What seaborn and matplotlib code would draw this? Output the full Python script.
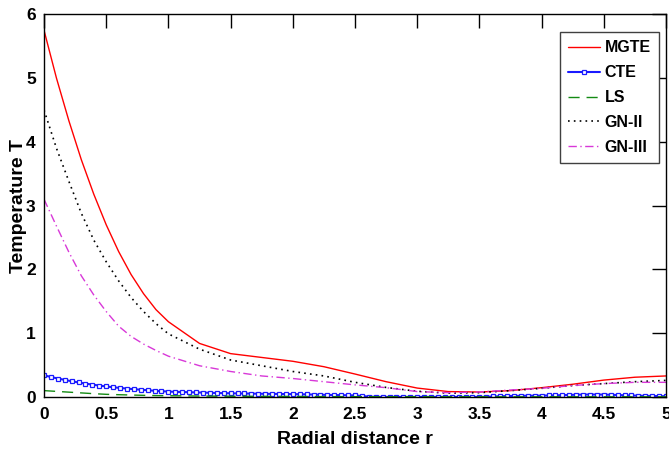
import matplotlib
matplotlib.use("Agg")
import matplotlib.pyplot as plt
import seaborn as sns
import numpy as np
import pandas as pd

# ---------------- data ----------------
r = [0.0, 0.1, 0.2, 0.3, 0.4, 0.5, 0.6, 0.7, 0.8, 0.9, 1.0,
     1.25, 1.5, 1.75, 2.0, 2.25, 2.5, 2.75, 3.0, 3.25, 3.5, 3.75,
     4.0, 4.25, 4.5, 4.75, 5.0]

mgte = [5.75, 5.0, 4.33, 3.72, 3.18, 2.70, 2.28, 1.92, 1.62, 1.37, 1.18,
        0.84, 0.68, 0.62, 0.56, 0.475, 0.36, 0.24, 0.14, 0.085, 0.078, 0.10,
        0.146, 0.20, 0.265, 0.31, 0.33]

gn2 = [4.5, 3.9, 3.38, 2.88, 2.46, 2.12, 1.82, 1.56, 1.34, 1.15, 0.99,
       0.75, 0.58, 0.49, 0.40, 0.33, 0.23, 0.15, 0.09, 0.06, 0.068, 0.10,
       0.136, 0.18, 0.21, 0.24, 0.26]

gn3 = [3.1, 2.68, 2.27, 1.9, 1.6, 1.34, 1.11, 0.95, 0.83, 0.73, 0.64,
       0.49, 0.40, 0.33, 0.29, 0.24, 0.19, 0.146, 0.085, 0.068, 0.078, 0.11,
       0.136, 0.18, 0.21, 0.23, 0.23]

ls = [0.10, 0.088, 0.076, 0.064, 0.052, 0.042, 0.036, 0.031, 0.026, 0.022, 0.020,
      0.015, 0.012, 0.010, 0.008, 0.006, 0.005, 0.004, 0.004, 0.003, 0.003, 0.003,
      0.003, 0.003, 0.003, 0.003, 0.003]

# CTE is sampled more densely (markers every 5/90)
r_cte = [round(5 * k / 90, 4) for k in range(91)]
cte = [0.340, 0.314, 0.290, 0.268, 0.247, 0.228, 0.210, 0.194, 0.179, 0.165,
       0.153, 0.142, 0.132, 0.123, 0.114, 0.106, 0.098, 0.091, 0.085,
       0.081, 0.078, 0.075, 0.072, 0.069, 0.066, 0.063, 0.060, 0.058,
       0.056, 0.055, 0.053, 0.052, 0.050, 0.049, 0.048, 0.046, 0.045,
       0.043, 0.041, 0.038, 0.036, 0.033, 0.031, 0.029, 0.027, 0.025,
       0.015, 0.006, 0.002,
       0.001, 0.001, 0.001, 0.001, 0.001, 0.001, 0.001, 0.001, 0.001, 0.001,
       0.001, 0.001, 0.001, 0.001, 0.001,
       0.002, 0.008, 0.012, 0.015, 0.017, 0.019, 0.020, 0.021, 0.022, 0.024,
       0.026, 0.029, 0.033, 0.036, 0.038, 0.039, 0.039, 0.038, 0.035, 0.031,
       0.027, 0.024, 0.021, 0.018, 0.016, 0.014, 0.012]

x_ticks = [0, 0.5, 1, 1.5, 2, 2.5, 3, 3.5, 4, 4.5, 5]
x_tick_labels = ["0", "0.5", "1", "1.5", "2", "2.5", "3", "3.5", "4", "4.5", "5"]
y_ticks = [0, 1, 2, 3, 4, 5, 6]
y_tick_labels = ["0", "1", "2", "3", "4", "5", "6"]

# ---------------- styling ----------------
sns.set_style("white")
plt.rcParams["font.family"] = ["Liberation Sans", "DejaVu Sans"]
plt.rcParams["font.weight"] = "bold"
for key in ["text.color", "axes.labelcolor", "xtick.color", "ytick.color"]:
    plt.rcParams[key] = "black"

fig = plt.figure(figsize=(6.69, 4.62), dpi=100)
ax = fig.add_axes([0.0658, 0.1407, 0.9297, 0.8283])

df_main = pd.DataFrame({"r": r, "MGTE": mgte, "LS": ls, "GN-II": gn2, "GN-III": gn3})
df_cte = pd.DataFrame({"r": r_cte, "CTE": cte})

sns.lineplot(data=df_main, x="r", y="MGTE", ax=ax, color="#ff0000", lw=1.0,
             label="MGTE")
sns.lineplot(data=df_cte, x="r", y="CTE", ax=ax, color="#1a1aff", lw=1.5,
             marker="s", markersize=3.2, markerfacecolor="white",
             markeredgecolor="#1a1aff", markeredgewidth=0.9, label="CTE")
sns.lineplot(data=df_main, x="r", y="LS", ax=ax, color="#138a13", lw=1.0,
             label="LS")
sns.lineplot(data=df_main, x="r", y="GN-II", ax=ax, color="black", lw=1.2,
             label="GN-II")
sns.lineplot(data=df_main, x="r", y="GN-III", ax=ax, color="#d838d8", lw=1.0,
             label="GN-III")

lines = ax.get_lines()
lines[2].set_linestyle((0, (8, 5)))
lines[3].set_linestyle((0, (1, 2.5)))
lines[4].set_linestyle((0, (6, 2.5, 1, 2.5)))

ax.set_xlim(0, 5)
ax.set_ylim(0, 6)
ax.set_xticks(x_ticks)
ax.set_xticklabels(x_tick_labels)
ax.set_yticks(y_ticks)
ax.set_yticklabels(y_tick_labels)

for s in ax.spines.values():
    s.set_visible(True)
    s.set_color("black")
    s.set_linewidth(1.0)

ax.tick_params(axis="both", which="major", direction="in", length=10, width=1.0,
               top=True, right=True, labelsize=12.5, colors="black")
ax.tick_params(axis="x", pad=7)
ax.tick_params(axis="y", pad=6)
for lab in ax.get_xticklabels() + ax.get_yticklabels():
    lab.set_fontweight("bold")

ax.set_xlabel("Radial distance r", fontsize=14, fontweight="bold")
ax.set_ylabel("Temperature T", fontsize=14, fontweight="bold")
ax.xaxis.set_label_coords(0.5, -0.09)
ax.yaxis.set_label_coords(-0.027, 0.5)

leg = ax.legend(loc="upper right", bbox_to_anchor=(0.988, 0.953), frameon=True,
                fancybox=False, edgecolor="#404040", framealpha=1.0,
                prop={"weight": "bold", "size": 11.5}, handlelength=2.0,
                handletextpad=0.3, borderpad=0.5, labelspacing=0.62,
                numpoints=1, borderaxespad=0)
leg.get_frame().set_linewidth(1.0)

fig.savefig("out.png", dpi=100)
